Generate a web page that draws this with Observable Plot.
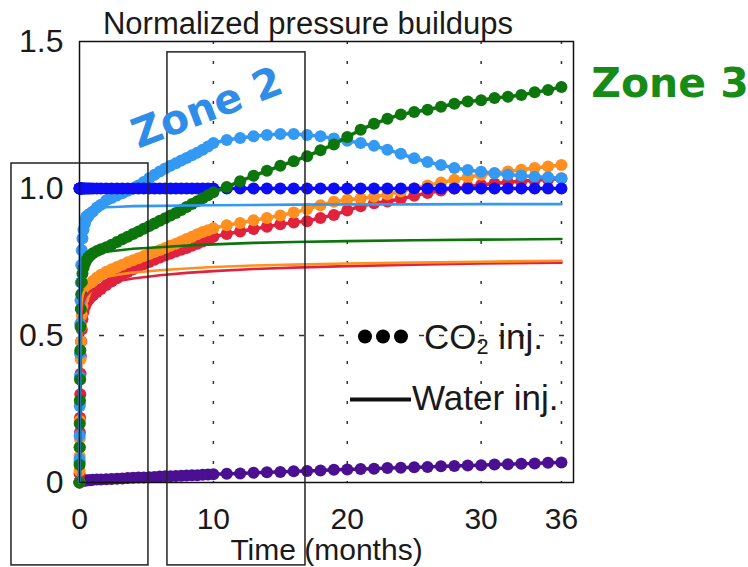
<!DOCTYPE html>
<html>
<head>
<meta charset="utf-8">
<script src="https://cdn.jsdelivr.net/npm/d3@7"></script>
<script src="https://cdn.jsdelivr.net/npm/@observablehq/plot@0.6"></script>
<style>
  body { margin: 0; background: #fff; }
  #wrap { position: relative; width: 748px; height: 567px; overflow: hidden;
          font-family: "Liberation Sans", Arial, sans-serif; color: #1a1a1a; }
  #chart { position: absolute; left: 0; top: 0; }
  .ann { position: absolute; white-space: nowrap; line-height: 1; transform: translate(-50%, -50%); }
  .title { font-size: 31px; }
  .zone { font-family: "DejaVu Sans", Verdana, sans-serif; font-weight: bold; font-size: 41px; }
  .leg { position: absolute; display: flex; align-items: center; transform: translateY(-50%);
         white-space: nowrap; line-height: 1; font-size: 35px; }
  .leg .dot { display: inline-block; width: 14px; height: 14px; border-radius: 50%; background: #000; margin-right: 4px; }
  .leg .bar { display: inline-block; width: 61px; height: 4px; background: #111; position: relative; top: 2px; margin-right: 1px; }
  .leg sub { font-size: 0.62em; vertical-align: -0.25em; line-height: 0; }
</style>
</head>
<body>
<div id="wrap">
  <div id="chart"></div>
  <div class="ann title" style="left:308px; top:23px;">Normalized pressure buildups</div>
  <div class="ann zone" style="left:207px; top:108px; color:#2f8de8; transform: translate(-50%,-50%) rotate(-21deg);">Zone 2</div>
  <div class="ann zone" style="left:670px; top:83px; color:#168c16;">Zone 3</div>
  <div class="leg" style="left:358px; top:336px;"><span class="dot"></span><span class="dot"></span><span class="dot" style="margin-right:16px"></span><span>CO<sub>2</sub> inj.</span></div>
  <div class="leg" style="left:350px; top:397px;"><span class="bar"></span><span>Water inj.</span></div>
</div>
<script>
// ---- time axes (months) ----
const T = [0, 0.005, 0.01, 0.02, 0.03, 0.04, 0.06, 0.08, 0.1, 0.13, 0.17, 0.22, 0.3, 0.4, 0.5, 0.65, 0.8, 1.0,
  1.3, 1.6, 2.0,
  2.4, 2.8, 3.2, 3.6, 4.0, 4.4, 4.8, 5.2, 5.6, 6.0, 6.4, 6.8, 7.2, 7.6, 8.0, 8.4, 8.8, 9.2, 9.6, 10,
  11, 12, 13, 14, 15, 16, 17, 18, 19, 20, 21, 22, 23, 24, 25, 26, 27, 28, 29, 30, 31, 32, 33, 34, 35, 36];

// ---- CO2 injection (dots) ----
const co2Sky = [0, 0.08, 0.16, 0.26, 0.36, 0.44, 0.54, 0.62, 0.68, 0.74, 0.79, 0.83, 0.86, 0.88, 0.895, 0.905, 0.915, 0.922,
  0.935, 0.945, 0.96,
  0.968, 0.976, 0.984, 0.992, 1.0, 1.01, 1.022, 1.035, 1.047, 1.058, 1.068, 1.077, 1.086, 1.095, 1.104, 1.113, 1.122, 1.132, 1.143, 1.155,
  1.165, 1.172, 1.178, 1.182, 1.185, 1.185, 1.182, 1.178, 1.17, 1.162, 1.155, 1.145, 1.132, 1.118, 1.103, 1.09, 1.08, 1.07, 1.063, 1.057, 1.052, 1.047, 1.044, 1.04, 1.038, 1.035];
const co2Blue = [1, 1, 1, 1, 1, 1, 1, 1, 1, 1, 1, 1, 1, 1, 1, 1, 1, 1,
  1, 1, 1,
  1, 1, 1, 1, 1, 1, 1, 1, 1, 1, 1, 1, 1, 1, 1, 1, 1, 1, 1, 1,
  1, 1, 1, 1, 1, 1, 1, 1, 1, 1, 1, 1, 1, 1, 1, 1, 1, 1, 1, 1, 1, 1, 1, 1, 1, 1];
const co2Green = [0, 0.06, 0.12, 0.2, 0.28, 0.35, 0.45, 0.53, 0.59, 0.64, 0.68, 0.71, 0.73, 0.745, 0.755, 0.765, 0.772, 0.78,
  0.787, 0.793, 0.80,
  0.809, 0.818, 0.827, 0.836, 0.845, 0.854, 0.863, 0.872, 0.881, 0.89, 0.899, 0.908, 0.917, 0.927, 0.937, 0.947, 0.957, 0.967, 0.977, 0.987,
  1.005, 1.025, 1.043, 1.06, 1.077, 1.093, 1.11, 1.13, 1.15, 1.175, 1.2, 1.22, 1.237, 1.252, 1.26, 1.268, 1.278, 1.288, 1.296, 1.3, 1.308, 1.312, 1.318, 1.327, 1.335, 1.345];
const co2Orange = [0, 0.04, 0.09, 0.15, 0.21, 0.27, 0.35, 0.42, 0.48, 0.53, 0.57, 0.6, 0.625, 0.64, 0.652, 0.665, 0.675, 0.685,
  0.697, 0.707, 0.717,
  0.725, 0.733, 0.741, 0.749, 0.756, 0.763, 0.77, 0.777, 0.784, 0.791, 0.798, 0.805, 0.812, 0.82, 0.828, 0.836, 0.844, 0.852, 0.858, 0.865,
  0.875, 0.883, 0.892, 0.9, 0.908, 0.918, 0.93, 0.943, 0.955, 0.962, 0.966, 0.972, 0.98, 0.99, 1.0, 1.01, 1.02, 1.03, 1.038, 1.047, 1.053, 1.058, 1.064, 1.07, 1.075, 1.08];
const co2Red = [0, 0.03, 0.07, 0.12, 0.17, 0.22, 0.3, 0.37, 0.43, 0.48, 0.52, 0.555, 0.58, 0.598, 0.61, 0.62, 0.628, 0.636,
  0.648, 0.658, 0.672,
  0.684, 0.695, 0.706, 0.716, 0.725, 0.734, 0.742, 0.75, 0.758, 0.765, 0.772, 0.779, 0.786, 0.792, 0.798, 0.805, 0.812, 0.82, 0.828, 0.836,
  0.845, 0.854, 0.862, 0.87, 0.878, 0.884, 0.889, 0.9, 0.91, 0.925, 0.94, 0.95, 0.956, 0.965, 0.975, 0.985, 0.993, 1.0, 1.006, 1.012, 1.017, 1.021, 1.025, 1.028, 1.031, 1.034];
const co2Purple = [0, 0.001, 0.002, 0.003, 0.003, 0.004, 0.004, 0.005, 0.005, 0.005, 0.006, 0.006, 0.006, 0.007, 0.007, 0.008, 0.008, 0.009,
  0.01, 0.01, 0.011,
  0.012, 0.013, 0.014, 0.015, 0.016, 0.017, 0.017, 0.018, 0.019, 0.02, 0.021, 0.021, 0.022, 0.023, 0.024, 0.025, 0.025, 0.026, 0.027, 0.028,
  0.03, 0.031, 0.033, 0.035, 0.036, 0.038, 0.039, 0.041, 0.043, 0.044, 0.046, 0.047, 0.049, 0.05, 0.052, 0.053, 0.055, 0.056, 0.058, 0.059, 0.061, 0.062, 0.064, 0.065, 0.067, 0.068];

// ---- Water injection (lines) ----
const WT = [0, 0.01, 0.02, 0.04, 0.07, 0.1, 0.15, 0.2, 0.3, 0.5, 0.75, 1, 1.5, 2, 3, 4, 6, 8, 10, 13, 16, 20, 25, 30, 36];
const waterSky = [0, 0.35, 0.6, 0.78, 0.86, 0.89, 0.905, 0.912, 0.918, 0.924, 0.928, 0.931, 0.934, 0.936, 0.938, 0.94, 0.941, 0.942, 0.943, 0.944, 0.945, 0.946, 0.946, 0.947, 0.947];
const waterGreen = [0, 0.25, 0.45, 0.6, 0.68, 0.71, 0.735, 0.748, 0.758, 0.767, 0.772, 0.776, 0.781, 0.785, 0.79, 0.795, 0.8, 0.806, 0.81, 0.815, 0.818, 0.821, 0.824, 0.826, 0.828];
const waterOrange = [0, 0.15, 0.3, 0.45, 0.54, 0.58, 0.61, 0.627, 0.645, 0.663, 0.675, 0.683, 0.693, 0.7, 0.708, 0.714, 0.722, 0.728, 0.733, 0.738, 0.741, 0.745, 0.748, 0.751, 0.754];
const waterRed = [0, 0.12, 0.25, 0.4, 0.5, 0.55, 0.58, 0.598, 0.617, 0.635, 0.648, 0.656, 0.667, 0.675, 0.686, 0.694, 0.705, 0.713, 0.719, 0.726, 0.731, 0.736, 0.741, 0.745, 0.748];

// ---- colours ----
const colPurple = "#4b0f91", colRed = "#e0223d", colOrange = "#ff8f1f",
      colSky = "#3399f3", colBlue = "#0d0df5", colGreen = "#0c750c";

// ---- axes / grid / annotation windows ----
const xTicks = [0, 10, 20, 30, 36];
const yTicks = [0, 0.5, 1.0, 1.5];
const xGrid = [10, 20, 30, 36];
const yGrid = [0.5, 1.0];
const zoneBoxes = [
  {t1: -5.08, t2: 5.15, v1: -0.282, v2: 1.085},
  {t1: 6.57, t2: 16.88, v1: -0.282, v2: 1.463}
];

const rows = (ts, vs) => ts.map((t, i) => ({t, v: vs[i]}));
const co2 = (vs, c) => [
  Plot.line(rows(T, vs), {x: "t", y: "v", stroke: c, strokeWidth: 3.5}),
  Plot.dot(rows(T, vs), {x: "t", y: "v", r: 6, fill: c, stroke: "none"})
];
const water = (vs, c) => Plot.line(rows(WT, vs), {x: "t", y: "v", stroke: c, strokeWidth: 2.6});

const chart = Plot.plot({
  width: 748, height: 567,
  marginLeft: 79, marginRight: 175, marginTop: 41, marginBottom: 85,
  style: {fontFamily: "'Liberation Sans', Arial, sans-serif", color: "#1a1a1a", background: "transparent", overflow: "visible"},
  x: {domain: [0, 36.9]},
  y: {domain: [0, 1.5]},
  marks: [
    Plot.ruleX(xGrid, {stroke: "#333", strokeWidth: 1.5, strokeDasharray: "3,17"}),
    Plot.ruleY(yGrid, {stroke: "#333", strokeWidth: 1.5, strokeDasharray: "5,15"}),
    ...co2(co2Purple, colPurple),
    ...co2(co2Red, colRed),
    ...co2(co2Orange, colOrange),
    ...co2(co2Sky, colSky),
    ...co2(co2Blue, colBlue),
    ...co2(co2Green, colGreen),
    water(waterRed, colRed),
    water(waterOrange, colOrange),
    water(waterGreen, colGreen),
    water(waterSky, colSky),
    Plot.frame({stroke: "#111", strokeWidth: 1.5}),
    Plot.rect(zoneBoxes, {x1: "t1", x2: "t2", y1: "v1", y2: "v2", fill: "none", stroke: "#222", strokeWidth: 1.5}),
    Plot.axisX({ticks: xTicks, tickSize: 0, tickPadding: 25, fontSize: 30, tickFormat: d => String(d),
                label: "Time (months)", labelAnchor: "center", labelArrow: "none", labelOffset: 77}),
    Plot.axisY({ticks: yTicks, tickSize: 0, tickPadding: 16, fontSize: 32,
                tickFormat: d => d === 0 ? "0" : d.toFixed(1), label: null})
  ]
});
document.getElementById("chart").appendChild(chart);
</script>
</body>
</html>
